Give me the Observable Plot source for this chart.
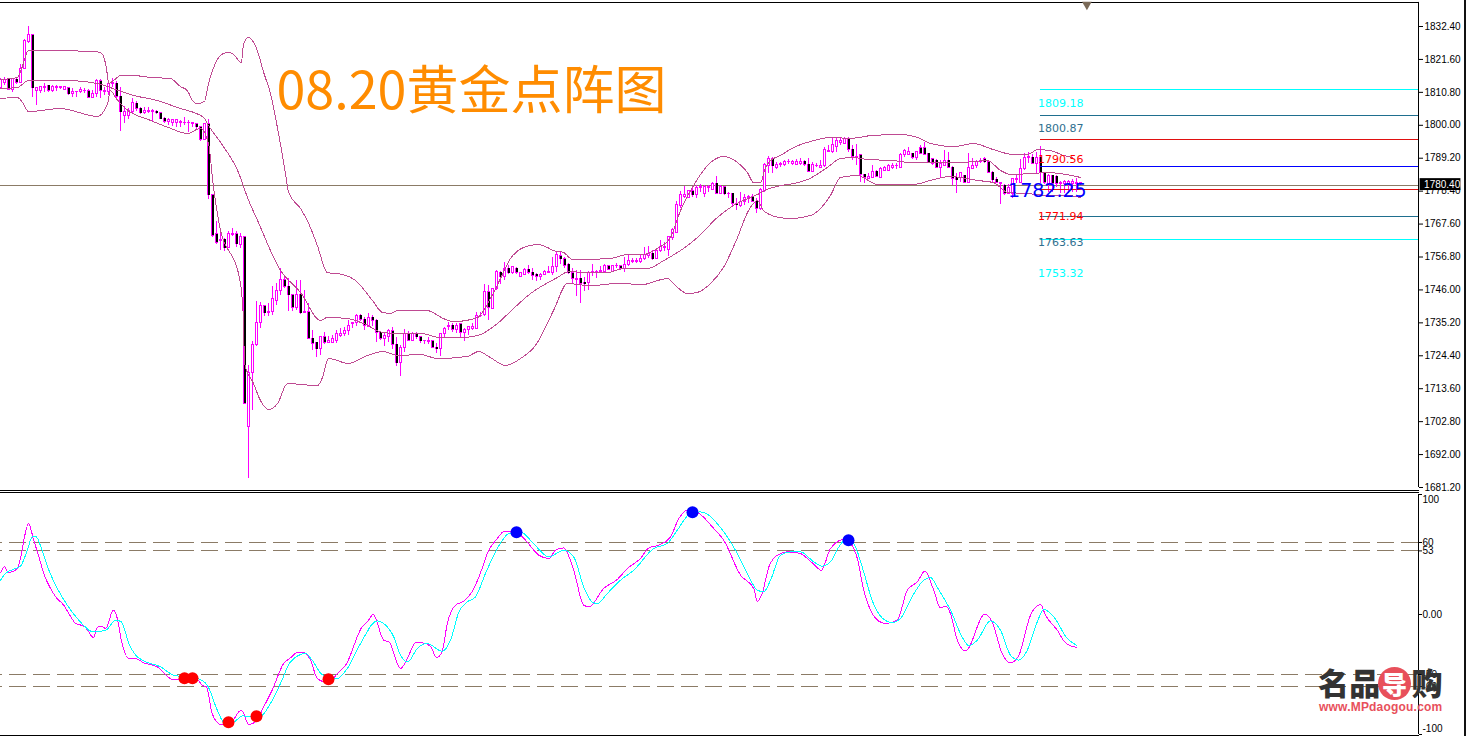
<!DOCTYPE html>
<html><head><meta charset="utf-8">
<script src="https://cdn.jsdelivr.net/npm/d3@7"></script>
<script src="https://cdn.jsdelivr.net/npm/@observablehq/plot@0.6"></script>
<style>
html,body{margin:0;padding:0;background:#fff;overflow:hidden}
#page{position:relative;width:1466px;height:736px;overflow:hidden}
#page svg{display:block;background:#fff}
#mark{position:absolute;left:1318px;top:664px;width:128px;height:50px}
#mark .cn{position:absolute;font:900 31px/36px "Noto Sans CJK SC";color:#333;white-space:nowrap;top:0;letter-spacing:.3px}
#mark .disc{position:absolute;left:60px;top:3px;width:33px;height:33px;border-radius:50%;background:#e8505b;color:#fff;font:900 25px/33px "Noto Sans CJK SC";text-align:center}
#mark .url{position:absolute;left:1px;top:37px;font:bold 12px/13px "Liberation Sans";color:#e8505b;white-space:nowrap;letter-spacing:.2px}
#edge{position:absolute;left:1464px;top:0;width:2px;height:736px;background:#111}
</style></head><body>
<div id="page"></div>
<script>
const opens=[1812.1,1814,1815,1811.7,1815,1814,1818.3,1827.2,1829.5,1811.4,1811.1,1812.1,1813,1811.4,1812.1,1812.1,1811.7,1812.1,1810.1,1810.8,1810.8,1811.1,1811.1,1809.1,1810.1,1814.4,1810.8,1810.8,1813.7,1813.7,
1809.4,1803.2,1803.2,1804.5,1807.1,1805.5,1803.9,1804.5,1804.5,1804.5,1803.9,1802.2,1801.2,1800.9,1800.9,1800.9,1800.6,1800.6,1800.4,1800.3,1799.3,1795.3,1800.3,1777,1764.2,1761.9,1762.5,1759.6,1763.9,1764.2,
1760.6,1763.2,1700.9,1718.9,1727.8,1735,1740.6,1738.4,1738.6,1742.5,1745.5,1749.1,1747.1,1744.2,1740.2,1744.5,1738.3,1738.6,1730,1728.7,1726.5,1730.4,1728.7,1728.7,1729.4,1731,1731.7,1732.4,1734.7,1735,
1737.6,1736.3,1733.7,1736.9,1735.9,1732,1730,1730.7,1732.4,1728.1,1721.9,1726.8,1731.7,1729.4,1731.4,1730.4,1729.1,1728.9,1729.1,1727.1,1726.5,1731.4,1733.7,1734.3,1732.7,1734.7,1732,1732.7,1733.3,1733.3,
1737.3,1737.9,1745.2,1739.9,1746.2,1751.7,1750.1,1753,1751.4,1753,1750.4,1751,1752.7,1751.7,1751,1750.1,1751,1751.4,1751.4,1753.4,1757,1756,1754.3,1751.4,1749.4,1749.7,1748.4,1748.4,1751.7,1751.7,
1751.9,1752,1753.7,1752,1753.7,1753.7,1753,1754.3,1755.3,1755.3,1755.3,1756,1757,1757.9,1756.3,1758.9,1759.9,1759.2,1762.9,1764.8,1773.4,1776.6,1776.3,1778.3,1777,1779.3,1777.6,1779.3,1778.9,1780.9,
1777.6,1779.6,1777.3,1777.6,1774.3,1773.4,1774.7,1776.3,1776.6,1775,1772.7,1778.3,1786.8,1789.1,1786.1,1787.1,1787.1,1787.8,1787.4,1787.1,1787.4,1788.1,1787.1,1784.8,1786.5,1786.1,1786.5,1791.4,1791.1,1793,
1794.3,1794,1795.6,1792,1789.4,1790.1,1783.8,1782.5,1782.8,1784.8,1782.8,1785.1,1785.1,1786.1,1786.5,1786.1,1790.1,1790.4,1790.7,1789.4,1792.4,1792.4,1790.7,1788.8,1788.4,1786.1,1786.8,1788.4,1786.1,1782.8,
1782.8,1783.5,1781.2,1785.8,1786.5,1788.1,1788.8,1787.8,1784.5,1782.2,1780.9,1780.2,1777.6,1777.6,1782.2,1781.2,1785.5,1789.4,1789.4,1787.4,1789.4,1784.2,1780.9,1783.5,1783.2,1780.9,1780.6,1780.6,1780.6,1780.9,1780.9];
const highs=[1815.3,1815.7,1815.3,1815.3,1815.7,1819.9,1828.1,1832.4,1829.5,1812.4,1812.7,1813.7,1813,1813,1813,1812.7,1812.7,1812.4,1812.1,1811.1,1812.4,1812.1,1811.7,1811.4,1815,1815,1812.4,1814.7,1815.3,1814.4,
1812.4,1806.2,1805.5,1808.8,1807.8,1805.8,1805.8,1805.8,1805.2,1804.8,1804.2,1802.5,1802.2,1801.9,1801.9,1801.6,1802.5,1801.6,1800.9,1800.6,1799.6,1800.3,1801.9,1777,1768.4,1764.5,1762.9,1765.2,1766.1,1765.2,
1764.5,1763.2,1721.2,1729.1,1742.2,1741.9,1740.9,1741.5,1747.1,1748.1,1753,1750.1,1749.7,1744.5,1749.1,1749.1,1745.8,1741.5,1732.7,1728.7,1730.4,1732,1730.7,1731,1732.7,1733.3,1733.7,1736,1735.3,1737.9,
1737.9,1736.9,1738.3,1737.6,1736.3,1732,1731.7,1733,1733.7,1730.4,1727.8,1733,1732.4,1732,1732,1730.7,1729.4,1730.4,1729.4,1728.4,1731.7,1733.7,1735.3,1735,1735,1735,1733.3,1734,1735,1738.6,
1738.6,1747.8,1747.4,1746.5,1752.4,1752,1755,1754,1753.4,1753.4,1751.7,1753,1754,1753,1751.4,1751.4,1752.4,1753.7,1756.6,1758.6,1758.3,1756.6,1754.7,1753,1752.4,1752.4,1750.1,1752,1754.3,1752.4,
1753.7,1754.3,1754,1754,1754.7,1754,1756.6,1757.3,1756.3,1756.3,1757.3,1759.9,1760.2,1758.9,1759.6,1762.2,1761.6,1763.5,1766.1,1775,1778.3,1779.9,1778.6,1779.6,1780.2,1780.6,1780.2,1780.2,1781.2,1783.2,
1780.2,1779.9,1777.9,1777.6,1776,1777.9,1777.3,1777,1777.3,1776,1779.3,1787.4,1789.7,1789.4,1787.8,1787.8,1788.4,1788.8,1788.4,1788.8,1789.1,1788.4,1789.1,1787.8,1787.4,1788.4,1792.7,1793.4,1796,1796,
1795.6,1796,1796,1793.4,1793.7,1790.1,1783.8,1784.2,1786.8,1785.1,1786.1,1786.5,1787.1,1787.4,1787.4,1790.7,1792,1792.7,1790.7,1791.4,1793.4,1794.3,1790.7,1789.1,1788.8,1788.4,1791.7,1791.1,1786.5,1784.2,
1784.2,1783.5,1790.7,1789.1,1788.4,1789.1,1789.4,1788.1,1784.8,1782.8,1781.2,1780.6,1780.6,1782.5,1783.5,1788.8,1790.7,1791.1,1790.4,1791.1,1793,1784.5,1783.8,1783.5,1783.5,1781.5,1781.9,1781.9,1782.2,1782.5,1781.2];
const lows=[1811.7,1813,1811.4,1810.8,1813.4,1813.7,1818.3,1826.8,1809.1,1806.5,1810.4,1810.8,1810.8,1810.8,1811.1,1811.7,1811.4,1809.8,1809.1,1809.1,1810.4,1810.4,1808.8,1808.8,1809.1,1808.8,1809.8,1809.8,1812.4,1808.8,
1797.9,1800.6,1801.9,1803.9,1804.5,1803.5,1803.5,1803.9,1801.2,1803.5,1801.9,1800.6,1799.9,1799.6,1799.3,1799.3,1799.9,1797.6,1799.3,1798.6,1794.7,1795,1775.6,1763.2,1760.9,1758.9,1758.6,1759.6,1763.5,1759.9,
1759.6,1708.7,1684.1,1706.4,1727.4,1733.3,1737.3,1737.3,1737.6,1740.9,1744.2,1746.5,1738.9,1738.9,1739.2,1737.9,1738.2,1730,1726.1,1723.8,1724.5,1728.1,1728.4,1728.4,1728.4,1730.4,1730.7,1731,1733.3,1734,
1735.6,1732.7,1733.7,1734,1728.7,1729.4,1727.4,1728.7,1726.5,1720.9,1717.6,1725.5,1729.1,1729.1,1729.7,1728.4,1728.1,1728.1,1726.8,1725.1,1724.2,1730.4,1732.7,1732,1731.7,1730.4,1729.1,1731,1732.7,1733.3,
1737,1737.3,1735.9,1739.6,1745.8,1747.8,1749.1,1751,1751,1751,1750.1,1751,1751,1749.1,1748.8,1749.1,1750.7,1751.4,1750.7,1751.7,1754.3,1753,1751,1748.1,1743.8,1741.5,1745.5,1745.8,1750.4,1749.7,
1751.4,1751.7,1752.4,1751.7,1753,1752.4,1751.7,1753.7,1754.7,1754.7,1754.7,1755.6,1756.3,1755.6,1756,1758.3,1758.6,1757,1762.2,1764.5,1772.7,1776,1776,1776.3,1776,1777.9,1776.3,1777.9,1778.6,1777.3,
1777.3,1777,1776,1773,1772,1773,1773.7,1774.3,1774.7,1771,1772,1777.9,1784.2,1784.2,1785.5,1786.1,1786.5,1787.1,1786.8,1786.8,1786.8,1786.5,1784.5,1784.5,1786.1,1786.1,1786.1,1791.1,1790.7,1791.1,
1793.4,1793.7,1791.1,1788.4,1786.8,1781.2,1780.9,1782.2,1782.5,1782.8,1782.8,1784.8,1784.8,1785.5,1785.5,1785.8,1789.4,1790.1,1788.8,1788.4,1790.4,1790.1,1787.4,1786.8,1785.8,1782.8,1786.5,1786.1,1780.2,1777.6,
1781.2,1780.9,1780.9,1785.5,1785.8,1787.4,1787.4,1784.2,1781.2,1780.9,1774,1777,1777.6,1776,1780.9,1780.9,1785.1,1787.4,1787.1,1784.2,1780.9,1780.6,1777.9,1777.9,1779.6,1777.6,1777.6,1777.6,1777.9,1777.9,1780.2];
const closes=[1814.7,1815,1811.7,1815.3,1814,1818.3,1827.8,1829.5,1812.1,1812.1,1812.4,1812.7,1811.4,1812.4,1812.4,1812.4,1812.4,1810.1,1810.8,1810.9,1811.7,1811.4,1809.1,1810.4,1814.4,1811.4,1811.4,1813.7,1814,1809.4,
1804.2,1804.2,1804.8,1807.4,1805.5,1803.9,1804.8,1804.8,1804.8,1803.9,1801.9,1801.2,1801.6,1801.6,1801.6,1801.2,1800.9,1800.9,1800.9,1799.3,1795.3,1800.3,1777,1763.8,1761.5,1762.5,1759.6,1764.5,1764.2,1760.9,
1763.2,1708.7,1718.9,1728.1,1735,1740.6,1738.3,1738.7,1742.9,1745.8,1749.4,1747.1,1744.2,1740.2,1744.5,1738.3,1738.6,1730,1728.4,1726.5,1730.4,1728.7,1729.1,1730,1731.4,1731.7,1732.4,1734.3,1735,1737.6,
1736.3,1734.3,1736.9,1735.9,1732,1730,1731,1732.4,1728.1,1721.9,1726.8,1731.7,1729.4,1731.4,1730.4,1729.1,1729.4,1729.2,1727.1,1726.5,1731.4,1733.3,1734.3,1733,1734.3,1732,1733,1733.7,1733.7,1737.6,
1737.6,1745.2,1740.2,1746.2,1752,1750.1,1753,1751.4,1753.4,1751.7,1751.4,1752.7,1751.7,1750.7,1750.4,1751,1752,1752,1753.4,1757.3,1756,1754,1751.4,1749.7,1749.7,1748.1,1747.8,1751.7,1752,1752,
1752.2,1754,1752.7,1754,1754,1753,1754.3,1755.6,1755.6,1755.6,1756.3,1757.3,1757.9,1756,1758.9,1760.2,1760.2,1763.2,1765.5,1773.7,1777,1777,1778.3,1777,1779.3,1779.9,1779.6,1779.6,1780.9,1777.6,
1779.6,1777.3,1777.6,1774.3,1773.7,1775,1776.3,1776.6,1775,1772.7,1778.9,1787.1,1789.1,1786.5,1787.1,1787.4,1787.8,1788.1,1787.8,1788.1,1787.8,1787.1,1784.8,1787.1,1786.8,1786.5,1792,1791.7,1793.4,1795,
1795,1795.6,1792,1789.7,1789.7,1783.8,1782.8,1783.2,1784.8,1783.2,1785.5,1786.1,1786.8,1786.5,1786.8,1790.4,1791.7,1791.4,1789.4,1791.1,1790.7,1790.4,1787.8,1787.4,1786.1,1787.4,1788.4,1786.1,1782.5,1781.9,
1784.2,1781.2,1786.1,1786.8,1787.8,1788.4,1787.8,1784.5,1781.9,1781.2,1781.2,1777.6,1779.3,1782.5,1782.5,1785.8,1789.4,1789.7,1787.4,1789.4,1784.5,1781.2,1783.5,1780.9,1780.9,1781.2,1781.5,1781.5,1781.5,1781.2,1781.2];

const upperBars=[0,4.25,5.2,7,22.5,25,26.25,26.8,27,28.3,30,33.3,37.5,42.5,45,46.7,48,49.2,51,52,53.3,55,56.7,58.3,60.2,60.8,62,64.2,65.8,67.5,69.5,71.25,72,75,76.7,79.2,81.7,85.75,88.75,93,95.5,97.5,99.25,106.75,110.75,113.25,119.25,120.75,122.5,125,127.5,130.75,134.25,136.75,138.25,140.75,143,145,152.5,156.75,160.75,164.25,167.5,170,173.25,176.75,180.75,184.25,186.75,188.25,190,191.25,192.5,195,198.25,202.5,207.5,212.5,217.5,225,229.25,232.5,238.25,243.25,248.25,253.25,256.75,259.25,262.5,265.75,268];
const upperBand=[1815,1815.7,1818.3,1824.5,1824.3,1823.9,1820.3,1815.7,1813.7,1814.7,1816.3,1816.3,1815.7,1815.3,1812.7,1811.4,1808.1,1807.1,1807.8,1813.7,1819,1822.9,1823.9,1823.2,1820.6,1826.8,1828.8,1824.5,1817.3,1810.4,1797.3,1784.2,1778,1772.7,1768.8,1760.6,1751.7,1751,1749.1,1742.5,1738.6,1738.3,1739.2,1739.2,1736.6,1735.6,1736.9,1739.2,1743.2,1749.7,1756.3,1759.9,1760.9,1759.9,1758.9,1758.3,1756,1756,1756.3,1757.6,1757.6,1759.6,1763.2,1772,1780.2,1786.8,1789.8,1787.8,1784.5,1781.2,1781.2,1786.2,1788.4,1790.1,1792.7,1794.7,1796,1795.7,1796.6,1797,1796,1794,1793,1794,1792,1790.4,1790.4,1792,1791.7,1790.1,1789.4];
const midBars=[0,4.25,7,10,16.75,24.25,28.25,33.25,39.25,44.25,50.75,52,55,59.5,61.75,64.25,70,75,80,81.75,86.75,90.75,95.75,100,105,110,115,119.25,124.25,128.25,132.5,139.25,142,146.75,151.75,155.75,161.75,165.75,170.75,174.25,179.25,183.25,189.25,191.75,195,198.25,201.75,206.75,210,213.25,216.75,223.25,227.5,231.75,240,246.75,250,252.5,258.25,261.75,270];
const midBand=[1812,1812.4,1814.7,1814.7,1814.7,1813.7,1812,1809.8,1808.1,1805.8,1802.6,1799.9,1794.4,1784.5,1776.3,1768.8,1752.4,1745.2,1736,1737,1736.6,1735,1732,1731.7,1731.7,1730.4,1730.4,1731,1735,1739.9,1744.8,1750.1,1752,1751.7,1751.7,1753,1753,1755.6,1759.6,1763.2,1769.8,1773.7,1777.3,1779,1780.2,1780.9,1782.2,1786.2,1789.1,1789.4,1788.8,1788.4,1787.8,1787.8,1787.8,1788.4,1785.2,1783.9,1784.2,1784.5,1782.9];
const lowerBars=[0,4.25,5.5,7,15,24.25,26.75,27.5,28.75,31.25,37.5,42.5,46.75,50,52,53.25,54.5,60,60.5,60.75,61,63.25,65,67,69.25,71.75,79.25,80.5,82,87,91.75,95.75,99.25,105,109.25,116.75,119.5,122.5,126.25,130,133.75,138.25,141.75,147.5,154.25,160.75,164.25,166.75,168.75,171.75,174.25,177.5,180.75,184.25,186.75,189.25,190.75,194.5,197.5,202.5,207.5,210,214.25,219.25,228.25,233.25,237.5,244.25,248.25,251.75,256.75,261.75,266.75,270];
const lowerBand=[1808.8,1809.1,1807.5,1804.5,1805.5,1802.9,1807.1,1811.4,1809.1,1805.5,1801.6,1799,1797.3,1799,1794,1779.6,1768.8,1748.1,1741.5,1736,1721.9,1715.3,1709.7,1706.8,1708.7,1715.3,1714.6,1717.3,1723.5,1721.9,1724.5,1725.8,1724.5,1724.8,1723.5,1724.2,1725.8,1723.8,1721.2,1723.5,1727.8,1739.2,1748.1,1747.4,1748.1,1747.8,1749.1,1749.7,1747.4,1744.8,1745.2,1748.1,1753.4,1763.2,1771.4,1775.3,1772,1769.8,1769.4,1770.4,1777,1782.9,1783.5,1780.6,1780.6,1782.2,1783.2,1781.9,1781.2,1778,1777.6,1777,1777,1776.3];

const priceTicks=[1832.4,1821.6,1810.8,1800,1789.2,1778.4,1767.6,1756.8,1746,1735.2,1724.4,1713.6,1702.8,1692,1681.2];
const levelValues=[1811.6,1803.1,1795.2,1786.5,1778.8,1770,1762.4];
const levelColors=["#00ffff","#1f6f8f","#e01010","#0000ff","#e01010","#1f6f8f","#00ffff"];
const levelLabels=["1809.18","1800.87","1790.56","1782.25","1771.94","1763.63","1753.32"];
const labelPrices=[1807.2,1798.9,1788.8,1778.6,1770.1,1761.5,1751.4];
const labelColors=["#00ffff","#2f6f8f","#ff0000","#0000ff","#ff0000","#2f6f8f","#00ffff"];
const currentPrice=1780.4;

const kBars=[0,1,2,4,5,6,7,8.3,9.6,10.8,12.5,13.8,15.8,17.1,18.8,20.8,21.8,23.2,24.2,25.2,26.3,28.2,29.2,30.2,32.1,33.8,35.8,39.2,40.8,42.9,45,49.2,50.4,51.5,52.9,55,57,60.2,62.1,63.9,65.8,67.9,70.8,72.5,74.2,75.8,77.5,79.2,82.1,84.2,86.3,90.4,91.7,93.2,95.8,97.1,100,101.7,103.75,105.4,107.5,109,110.4,111.7,113.75,115.8,117.9,120.4,121.7,124.2,125.8,128.75,131.25,134.6,137.1,138.75,140.8,143.3,145.8,147.1,150.8,154.2,156.7,160,162.1,164.6,167.5,169.6,171.7,174.6,178.3,180.8,185,188.3,189.2,190.4,192.1,194.2,196.7,200,201.25,203.3,205.2,207.5,210.8,212.5,214.2,215.8,217.5,219.6,221.25,224.2,226.7,229.2,231.1,233.3,235,236.25,237.5,239.2,241.25,246.1,247.9,250.4,252.5,254.6,257.5,260,261.25,264.2,266.25,269];
const kValues=[34.7,39.7,35,37.5,46.7,64.7,75.8,61.9,48,34.2,21.7,14.7,7.8,0.8,-7.5,-9.7,-13,-19.2,-10.8,-9.7,-11.7,3.6,-3.3,-21.4,-36.7,-36.7,-40.3,-43.6,-48.6,-53.9,-53.9,-54.2,-58.9,-60.3,-82.5,-91.7,-92.2,-79.7,-91.7,-88.9,-77,-63.1,-40.8,-36.1,-31.7,-31.7,-38,-53.3,-57,-49.2,-42.2,-10.3,-6.1,0,-21.4,-22.8,-45,-36.7,-23.6,-23.6,-26.4,-35.8,-31.1,-7.5,7.8,11.1,18.9,38.3,50.8,63.3,68.9,68.9,61.9,49.4,46.7,53.6,55.5,36.9,7.8,6.4,21.7,29.2,38.3,46.7,55.5,57.8,64.7,80,86.9,84.2,71.7,61.9,32.8,21.7,11.1,17.5,39.7,49.4,52.2,50.8,48,41.9,36.9,55,62.5,59.2,46.7,20.3,3.6,-5.6,-7.5,-4.7,20.3,27.2,36.1,20.3,5.5,6.9,0.8,-21.4,-30.3,0.3,-6.1,-32.5,-40.3,-33.9,-0.6,8.3,-0.6,-13.1,-23.6,-27.5];
const dBars=[0,1.25,3.75,5,6.7,7.9,8.75,10.4,12.1,14.2,16.7,19.2,23.3,26.3,28.8,30.2,32.1,33.8,35.8,40,43.3,49.2,51.7,54.2,55.8,58.3,60.4,62.9,65,67.5,70,72.5,76.3,77.9,80.4,84.2,86.7,90,94.2,95.8,98.3,100,101.8,104.2,106.7,110.4,112.5,114.6,116.7,118.75,121.25,124.2,127.1,130,132.9,137.1,140.8,143.3,145.8,147.9,149.2,151.7,155,158.3,163.3,166.7,169.2,172.5,175,180.8,184.2,186.7,189.2,190.8,192.5,195,197.5,200,203.3,205.4,207.5,209.6,212.1,213.75,215.8,217.9,220.4,222.9,225,227.9,230.4,232.5,234.6,237.5,240.4,242.1,244.2,247.5,250,252.5,254.6,256.7,259.2,260.8,263.3,266.7,269];
const dValues=[28.6,34.2,38.3,40.3,53.6,64.7,65.3,53.6,36.9,21.7,7.8,-3.3,-14.5,-13.1,-4.7,-6.1,-24.2,-33.9,-38.6,-43.6,-50.6,-53.3,-58.9,-79.7,-89.4,-89.4,-84.5,-85.3,-84.7,-74.2,-57.5,-39.5,-32.5,-38,-50,-53.3,-45,-24.2,-5.3,-7.5,-18.6,-33.9,-39.5,-28.3,-24.2,-30.6,-21.4,2.2,10.5,14.7,34.2,55,67.5,68.9,60.5,48,53.6,48,23,10.5,9.2,17.5,28.6,36.9,55,59.2,70.3,84.2,85.5,68.9,50.8,34.2,20.3,18.9,28.6,49.4,52.2,52.2,43.9,40.3,43.9,56.4,64.7,56.4,35.5,11.9,-2.8,-6.7,-3.3,14.7,27.2,30.8,20.3,3.6,-18.6,-26.1,-21.4,-5.3,-13.1,-33.9,-38,-29.7,-6.1,4.2,-1.9,-20,-25.6];
const redBars=[46,48,57,64,82];
const redValues=[-53.1,-53.1,-89.8,-84.8,-53.9];
const blueBars=[129,173,212];
const blueValues=[68.6,85.3,61.9];
const oscLevels=[60,53,-50,-60];
const oscTicks=[100,60,53,0,-50,-60,-100];

const titleText="08.20黄金点阵图";
const axisFont='"Liberation Sans"';
const BRAND="#bf4a92", LEVEL="#8b7b66", MAG="#ff00ff", CY="#00ffff";
const CRISP={shapeRendering:"crispEdges"};
const bars=d3.range(opens.length).map(i=>({i,o:opens[i],h:highs[i],l:lows[i],c:closes[i],top:Math.max(opens[i],closes[i]),bot:Math.min(opens[i],closes[i])}));
const falling=bars.filter(d=>d.c<d.o);
const line=(xs,ys,opt)=>Plot.line(xs.map((x,k)=>[x,ys[k]]),{x:"0",y:"1",curve:"monotone-x",strokeWidth:1,...CRISP,...opt});
const xScale={type:"linear",domain:[0,354.5],range:[0,1418]};

const pricePanel=Plot.plot({
  width:1466,height:491,marginLeft:0,marginRight:48,marginTop:2,marginBottom:1,
  style:{fontFamily:axisFont,background:"#fff",overflow:"visible"},
  x:{...xScale,axis:null},
  y:{type:"linear",domain:[1681.2,1832.4],range:[487,26]},
  marks:[
    Plot.frame({anchor:"top",stroke:"#000"}),
    Plot.frame({anchor:"bottom",stroke:"#000"}),
    Plot.ruleY([currentPrice],{x1:0,x2:354.5,stroke:LEVEL,...CRISP}),
    Plot.ruleX(bars,{x:"i",y1:"l",y2:"h",stroke:MAG,strokeWidth:1,...CRISP}),
    Plot.rect(bars,{x1:d=>d.i-0.25,x2:d=>d.i+0.25,y1:"bot",y2:"top",fill:d=>d.c<d.o?"#000":"#fff",stroke:MAG,strokeWidth:1,...CRISP}),
    Plot.ruleX(falling,{x:d=>d.i+0.125,y1:"bot",y2:"top",stroke:"#000",strokeWidth:2,...CRISP}),
    line(upperBars,upperBand,{stroke:BRAND}),
    line(midBars,midBand,{stroke:BRAND}),
    line(lowerBars,lowerBand,{stroke:BRAND}),
    Plot.ruleY(levelValues,{y:d=>d,x1:260,x2:354.5,stroke:(d,k)=>levelColors[k],...CRISP}),
    Plot.text(levelLabels,{x:259.4,y:(d,k)=>labelPrices[k],text:d=>d,textAnchor:"start",fill:(d,k)=>labelColors[k],fontFamily:'"DejaVu Sans"',fontSize:11,filter:(d,k)=>k!==3}),
    Plot.text([levelLabels[3]],{x:251.9,y:labelPrices[3],text:d=>d,textAnchor:"start",fill:labelColors[3],fontFamily:'"DejaVu Sans"',fontSize:19}),
    Plot.text([titleText],{x:69,y:1810.7,text:d=>d,textAnchor:"start",fill:"#ff8c00",fontFamily:'"Noto Sans CJK SC"',fontSize:52}),
    Plot.dot([[271.6,1839.6]],{x:"0",y:"1",symbol:"triangle",rotate:180,r:3.6,fill:"#7a6a58"}),
    Plot.axisY(priceTicks,{anchor:"right",label:null,tickSize:4,tickPadding:2,fontSize:10,tickFormat:d=>d.toFixed(2),stroke:"#000",fill:"#000"}),
    Plot.ruleX([354.5],{y1:1681.2,y2:1840.3,stroke:"#000"}),
    Plot.rect([currentPrice],{x1:354.9,x2:365.1,y1:1778.6,y2:1782.5,fill:"#000"}),
    Plot.text([currentPrice],{x:355.9,y:1780.4,text:d=>d.toFixed(2),textAnchor:"start",fill:"#fff",fontSize:10})
  ]
});
const oscPanel=Plot.plot({
  width:1466,height:245,marginLeft:0,marginRight:48,marginTop:1,marginBottom:1,
  style:{fontFamily:axisFont,background:"#fff",overflow:"visible"},
  x:{...xScale,axis:null},
  y:{type:"linear",domain:[-100,100],range:[243,3]},
  marks:[
    Plot.frame({anchor:"top",stroke:"#000"}),
    Plot.frame({anchor:"bottom",stroke:"#000"}),
    Plot.ruleY(oscLevels,{x1:0,x2:354.5,stroke:LEVEL,strokeDasharray:"17,7",strokeDashoffset:14.7,...CRISP}),
    line(kBars,kValues,{stroke:MAG}),
    line(dBars,dValues,{stroke:CY}),
    Plot.dot(redBars.map((b,k)=>[b,redValues[k]]),{x:"0",y:"1",r:6,fill:"#ff0000"}),
    Plot.dot(blueBars.map((b,k)=>[b,blueValues[k]]),{x:"0",y:"1",r:6,fill:"#0000ff"}),
    Plot.axisY(oscTicks,{anchor:"right",label:null,tickSize:3,tickPadding:1,fontSize:10,tickFormat:d=>Math.abs(d)===100?"":d===0?"0.00":String(d),stroke:"#000",fill:"#000"}),
    Plot.text([100],{x:355.5,y:100,dy:5,text:String,textAnchor:"start",fontSize:10,fill:"#000"}),
    Plot.text([-100],{x:355.5,y:-100,dy:-6,text:String,textAnchor:"start",fontSize:10,fill:"#000"}),
    Plot.ruleX([354.5],{y1:-100,y2:100,stroke:"#000"})
  ]
});
const page=document.getElementById("page");
page.append(pricePanel,oscPanel);
const wm=document.createElement("div");
wm.id="mark";
wm.innerHTML='<div class="cn">名品<span style="display:inline-block;width:31px"></span>购</div><div class="disc">导</div><div class="url">www.MPdaogou.com</div>';
const edge=document.createElement("div");
edge.id="edge";
page.append(wm,edge);
</script>
</body></html>
